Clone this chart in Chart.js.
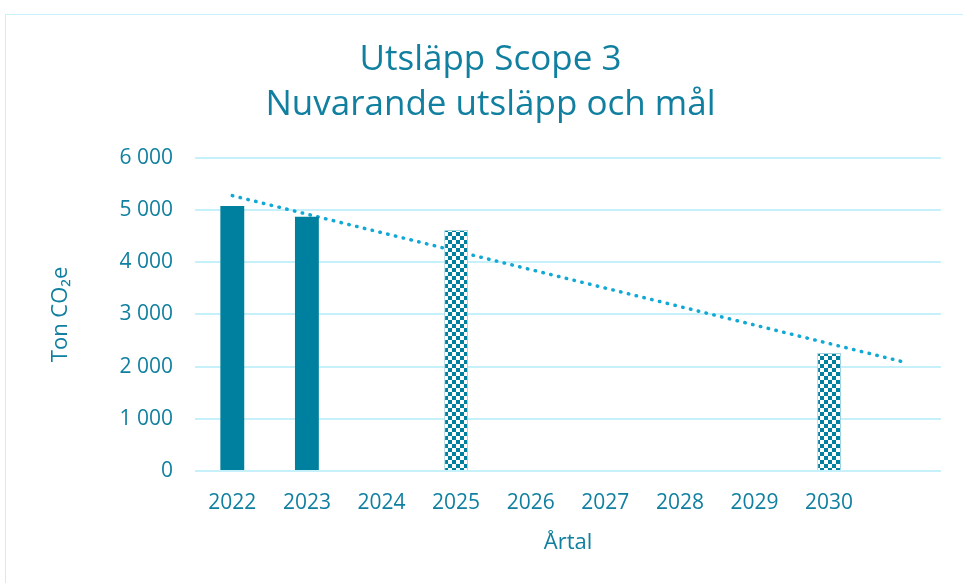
<!DOCTYPE html>
<html>
<head>
<meta charset="utf-8">
<script src="https://cdn.jsdelivr.net/npm/chart.js@4"></script>
<style>
  html, body { margin: 0; padding: 0; background: #fff; overflow: hidden; }
  #frame { position: absolute; left: 5px; top: 14px; width: 1000px; height: 600px; border: 1.5px solid #c6f1fa; }
  #wrap { position: absolute; left: 0; top: 0; width: 963px; height: 583px; }
</style>
</head>
<body>
<div id="frame"></div>
<div id="wrap"><canvas id="chart"></canvas></div>
<script>
// årtal (sista kategorin saknar etikett, trendlinjen går dit)
const years = ['2022', '2023', '2024', '2025', '2026', '2027', '2028', '2029', '2030', ''];
// faktiskt utsläpp (ton CO2e)
const actual = [5080, 4870, null, null, null, null, null, null, null, null];
// mål / prognos
const target = [null, null, null, 4620, null, null, null, null, 2260, null];
// linjär trend, start- och slutpunkt
const trend = [5277, null, null, null, null, null, null, null, null, 2089];

const TEXT = '#1180a0';
const BAR = '#00809f';
const GRID = '#c6f1fa';
const FONT = "'Open Sans', 'Noto Sans', sans-serif";

function checker() {
    const c = document.createElement('canvas');
    c.width = 8; c.height = 8;
    const g = c.getContext('2d');
    g.fillStyle = '#ffffff';
    g.fillRect(0, 0, 8, 8);
    g.fillStyle = BAR;
    g.fillRect(0, 0, 4, 4);
    g.fillRect(4, 4, 4, 4);
    return g.createPattern(c, 'repeat');
}

new Chart(document.getElementById('chart'), {
    data: {
        labels: years,
        datasets: [
            {
                type: 'bar',
                label: 'Utsläpp',
                data: actual,
                backgroundColor: BAR,
                barPercentage: 0.32,
                categoryPercentage: 1,
                grouped: false
            },
            {
                type: 'bar',
                label: 'Mål',
                data: target,
                backgroundColor: checker(),
                borderColor: '#9fd3df',
                borderWidth: 1,
                barPercentage: 0.32,
                categoryPercentage: 1,
                grouped: false
            },
            {
                type: 'line',
                label: 'Trend',
                data: trend,
                spanGaps: true,
                borderColor: '#10a9d6',
                borderWidth: 3.5,
                borderDash: [0.5, 7.5],
                borderCapStyle: 'round',
                pointRadius: 0,
                fill: false
            }
        ]
    },
    options: {
        responsive: true,
        maintainAspectRatio: false,
        animation: false,
        layout: { padding: { left: 40, right: 22, top: 38, bottom: 18 } },
        plugins: {
            legend: { display: false },
            tooltip: { enabled: false },
            title: {
                display: true,
                text: ['Utsläpp Scope 3', 'Nuvarande utsläpp och mål'],
                color: TEXT,
                font: { family: FONT, size: 35, weight: 'normal', lineHeight: 1.27 },
                padding: { top: 0, bottom: 31 }
            }
        },
        scales: {
            x: {
                grid: { display: false, drawTicks: false },
                border: { display: false },
                ticks: { color: TEXT, font: { family: FONT, size: 21 }, padding: 19, maxRotation: 0 },
                title: { display: true, text: 'Årtal', color: TEXT, font: { family: FONT, size: 22 }, padding: { top: 0, bottom: 9 } },
                afterFit: s => { s.height = 94; }
            },
            y: {
                min: 0,
                max: 6000,
                ticks: {
                    stepSize: 1000,
                    color: TEXT,
                    font: { family: FONT, size: 21 },
                    padding: 22,
                    callback: v => v.toLocaleString('sv-SE').replace(/\s/g, ' ')
                },
                grid: { color: GRID, lineWidth: 2, drawTicks: false },
                border: { display: false },
                title: { display: true, text: 'Ton CO₂e', color: TEXT, font: { family: FONT, size: 22 }, padding: { top: 8, bottom: 0 } },
                afterFit: s => { s.width = 155; }
            }
        }
    }
});
</script>
</body>
</html>
